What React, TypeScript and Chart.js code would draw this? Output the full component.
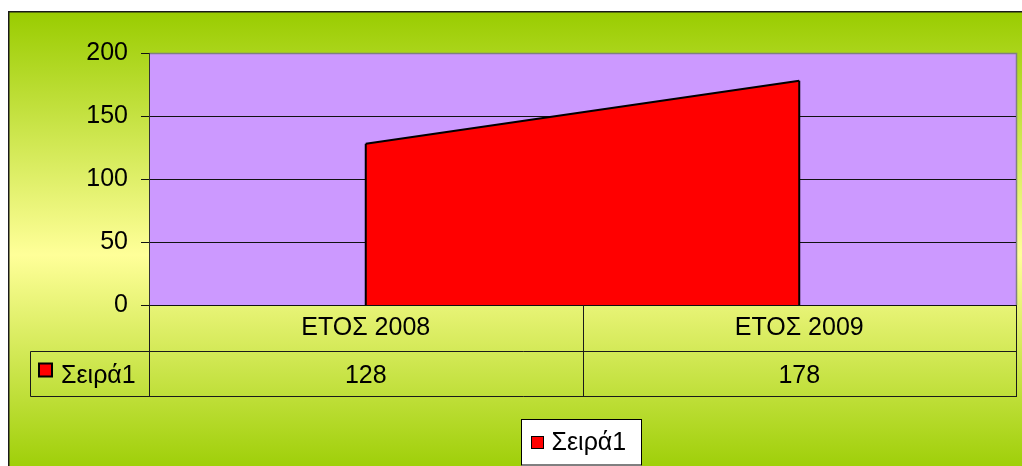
import React, { useEffect, useRef } from "react";
import { Chart, registerables } from "chart.js";

Chart.register(...registerables);

const categories = ["ΕΤΟΣ 2008", "ΕΤΟΣ 2009"];
const seriesName = "Σειρά1";
const seriesValues = [128, 178];
const yTicks = [0, 50, 100, 150, 200];

const FONT = '"Liberation Sans", Arial, sans-serif';
const W = 1022;
const H = 466;

export default function App() {
  const ref = useRef<HTMLCanvasElement>(null);

  useEffect(() => {
    document.body.style.margin = "0";
    document.body.style.overflow = "hidden";
    const canvas = ref.current!;
    const frameLeft = 8;
    const frameTop = 11;
    const rowH = 45.5;
    const keyLeft = 30.5;

    const bgPlugin = {
      id: "bgPlugin",
      beforeDraw(chart: any) {
        const { ctx, chartArea: a } = chart;
        ctx.save();
        const g = ctx.createLinearGradient(0, frameTop, 0, 480);
        g.addColorStop(0, "#99CC00");
        g.addColorStop(0.52, "#FFFF99");
        g.addColorStop(1, "#99CC00");
        ctx.fillStyle = g;
        ctx.fillRect(frameLeft, frameTop, W - frameLeft, H - frameTop);
        ctx.strokeStyle = "#1a1a1a";
        ctx.lineWidth = 1.5;
        ctx.beginPath();
        ctx.moveTo(frameLeft + 0.75, H);
        ctx.lineTo(frameLeft + 0.75, frameTop + 0.75);
        ctx.lineTo(W, frameTop + 0.75);
        ctx.stroke();
        // plot area
        ctx.fillStyle = "#CC99FF";
        ctx.fillRect(a.left, a.top, a.right - a.left, a.bottom - a.top);
        ctx.strokeStyle = "#808080";
        ctx.lineWidth = 1.5;
        ctx.beginPath();
        ctx.moveTo(a.left, a.top + 0.5);
        ctx.lineTo(a.right + 0.5, a.top + 0.5);
        ctx.lineTo(a.right + 0.5, a.bottom);
        ctx.stroke();
        ctx.restore();
      },
    };

    const edgePlugin = {
      id: "edgePlugin",
      afterDatasetsDraw(chart: any) {
        const { ctx } = chart;
        const meta = chart.getDatasetMeta(0);
        const y0 = chart.scales.y.getPixelForValue(0);
        ctx.save();
        ctx.strokeStyle = "#000";
        ctx.lineWidth = 2;
        ctx.beginPath();
        meta.data.forEach((p: any) => {
          ctx.moveTo(p.x, p.y);
          ctx.lineTo(p.x, y0);
        });
        ctx.stroke();
        ctx.restore();
      },
    };

    const tablePlugin = {
      id: "tablePlugin",
      afterDraw(chart: any) {
        const { ctx, chartArea: a } = chart;
        const xs = chart.scales.x;
        const centers = categories.map((_, i) => xs.getPixelForValue(i));
        const bounds: number[] = [a.left];
        for (let i = 0; i < centers.length - 1; i++) bounds.push((centers[i] + centers[i + 1]) / 2);
        bounds.push(a.right);
        const top = a.bottom;
        const r1 = top + rowH;
        const r2 = top + 2 * rowH;
        const snap = (v: number) => Math.round(v) + 0.5;
        ctx.save();
        ctx.strokeStyle = "#1a1a1a";
        ctx.lineWidth = 1;
        ctx.beginPath();
        bounds.forEach((b) => {
          ctx.moveTo(snap(b), top);
          ctx.lineTo(snap(b), snap(r2));
        });
        ctx.moveTo(keyLeft, snap(r1));
        ctx.lineTo(a.right + 1, snap(r1));
        ctx.moveTo(keyLeft, snap(r2));
        ctx.lineTo(a.right + 1, snap(r2));
        ctx.moveTo(keyLeft, snap(r1));
        ctx.lineTo(keyLeft, snap(r2));
        ctx.stroke();

        ctx.fillStyle = "#000";
        ctx.font = `25px ${FONT}`;
        ctx.textAlign = "center";
        ctx.textBaseline = "alphabetic";
        categories.forEach((c, i) => ctx.fillText(c, centers[i], top + 30));
        seriesValues.forEach((v, i) => ctx.fillText(String(v), centers[i], r1 + 32));

        // key in table
        ctx.fillStyle = "#FF0000";
        ctx.fillRect(39, r1 + 13, 13, 13);
        ctx.strokeStyle = "#000";
        ctx.lineWidth = 2;
        ctx.strokeRect(39, r1 + 13, 13, 13);
        ctx.fillStyle = "#000";
        ctx.textAlign = "left";
        ctx.fillText(seriesName, 61, r1 + 32);

        // legend box
        const cx = (a.left + a.right) / 2 - 1.5;
        const bw = 120;
        const bx = Math.round(cx - bw / 2) + 0.5;
        const by = 419.5;
        ctx.fillStyle = "#FFFFFF";
        ctx.fillRect(bx, by, bw, H - by + 2);
        ctx.strokeStyle = "#000";
        ctx.lineWidth = 1;
        ctx.strokeRect(bx, by, bw, H - by - 1);
        ctx.fillStyle = "#FF0000";
        ctx.fillRect(bx + 10, by + 17, 12, 12);
        ctx.strokeRect(bx + 10, by + 17, 12, 12);
        ctx.fillStyle = "#000";
        ctx.fillText(seriesName, bx + 30, by + 30);
        ctx.restore();
      },
    };

    const chart = new Chart(canvas, {
      type: "line",
      data: {
        labels: categories,
        datasets: [
          {
            label: seriesName,
            data: seriesValues,
            fill: "origin",
            backgroundColor: "#FF0000",
            borderColor: "#000000",
            borderWidth: 2,
            pointRadius: 0,
            tension: 0,
          },
        ],
      },
      options: {
        animation: false,
        responsive: false,
        devicePixelRatio: 1,
        layout: { padding: { left: 0, top: 53, right: 6, bottom: 0 } },
        plugins: { legend: { display: false }, tooltip: { enabled: false } },
        scales: {
          x: {
            offset: true,
            ticks: { display: false },
            grid: { display: false, drawTicks: false },
            border: { display: false },
            afterFit: (s: any) => {
              s.height = 161;
            },
          },
          y: {
            min: 0,
            max: 200,
            afterBuildTicks: (s: any) => {
              s.ticks = yTicks.map((v) => ({ value: v }));
            },
            ticks: { color: "#000", font: { family: FONT, size: 25 }, padding: 13 },
            grid: {
              color: (c: any) => (c.tick && c.tick.value === 200 ? "rgba(0,0,0,0)" : "#111"),
              tickColor: "#111",
              tickLength: 8,
              lineWidth: 1,
            },
            border: { color: "#333", width: 1 },
            afterFit: (s: any) => {
              s.width = 149;
            },
          },
        },
      },
      plugins: [bgPlugin, edgePlugin, tablePlugin],
    } as any);

    return () => chart.destroy();
  }, []);

  return (
    <div style={{ position: "fixed", left: 0, top: 0, width: W, height: H }}>
      <canvas ref={ref} width={W} height={H} style={{ display: "block", width: W, height: H }} />
    </div>
  );
}
